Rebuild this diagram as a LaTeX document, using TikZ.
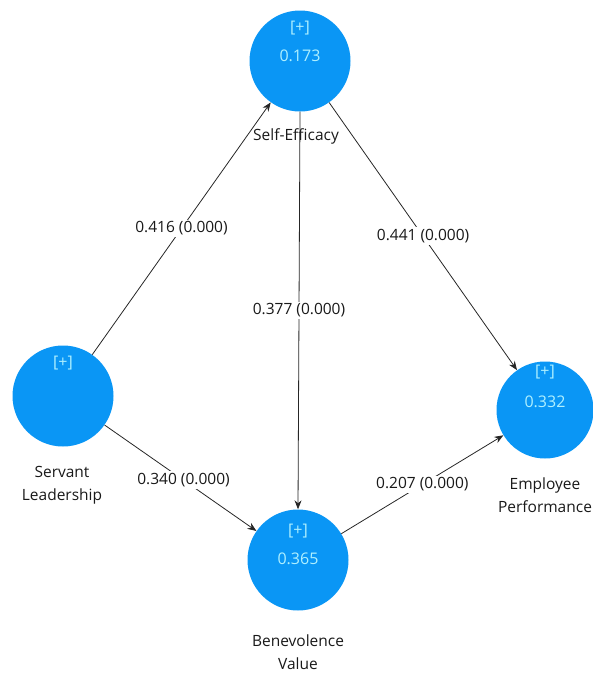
\documentclass[tikz,border=0pt]{standalone}
\usepackage{fontspec}
\setmainfont{Open Sans}
\usetikzlibrary{arrows.meta}
\definecolor{lvblue}{RGB}{10,150,245}
\definecolor{lvtext}{RGB}{175,240,255}
\definecolor{labtext}{RGB}{25,25,25}
\begin{document}
\begin{tikzpicture}[x=1pt,y=-1pt,
  lv/.style={circle,fill=lvblue,draw=none,minimum size=101pt,inner sep=0pt},
  intext/.style={text=lvtext,font=\fontsize{16}{18}\selectfont,inner sep=0pt},
  lvname/.style={text=labtext,font=\fontsize{15.5}{23.5}\selectfont,align=center,inner sep=0pt},
  rel/.style={draw=black!85,line width=0.8pt,-{Stealth[length=9pt,width=7pt]}},
  coef/.style={fill=white,text=labtext,font=\fontsize{15.5}{17}\selectfont,inner sep=2pt}]
\useasboundingbox (0,0) rectangle (592,675);
% latent variables
\node[lv] (se) at (300,61) {};
\node[lv] (sl) at (63,396) {};
\node[lv] (bv) at (298,560) {};
\node[lv,minimum size=97pt] (ep) at (545,410) {};
% texts inside
\node[intext] (sep) at (300,28) {[+]};
\node[intext] (sev) at (300,56) {0.173};
\node[intext] (slp) at (63,363) {[+]};
\node[intext] (bvp) at (298,531) {[+]};
\node[intext] (bvv) at (298,559) {0.365};
\node[intext] (epp) at (545,372) {[+]};
\node[intext] (epv) at (545,402) {0.332};
% names
\node[lvname] (sen) at (296,136) {Self-Efficacy};
\node[lvname] (sln) at (62,485) {Servant\\Leadership};
\node[lvname] (bvn) at (298,652) {Benevolence\\Value};
\node[lvname] (epn) at (545,495) {Employee\\Performance};
% paths
\draw[rel] (sl) -- node[coef,pos=0.5] (c1) {0.416 (0.000)} (se);
\draw[rel] (se.south) -- node[coef,pos=0.5] (c2) {0.377 (0.000)} (bv.north);
\draw[rel] (se) -- node[coef,pos=0.5] (c3) {0.441 (0.000)} (ep);
\draw[rel] (sl) -- node[coef,pos=0.52] (c4) {0.340 (0.000)} (bv);
\draw[rel] (bv) -- node[coef,pos=0.5] (c5) {0.207 (0.000)} (ep);
\end{tikzpicture}
\end{document}
